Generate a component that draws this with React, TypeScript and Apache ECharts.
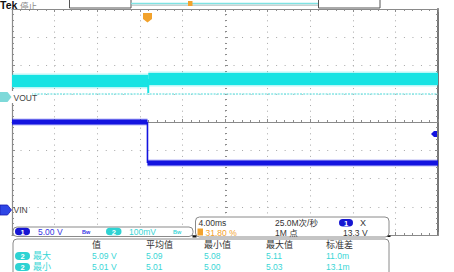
import React, { useEffect, useRef } from "react";
import * as echarts from "echarts";

// Oscilloscope capture: positions in screen divisions (x: -5..5, y: -4..4)
const vinTimes = [-5, -1.82, -1.82, 5];
const vinLevels = [0.0, 0.0, -1.45, -1.45];
const voutTimes = [-5, -1.8, -1.8, -1.8, 5];
const voutLevels = [1.45, 1.45, 1.03, 1.52, 1.52];
const voutRefLevel = 1.0;

const ch1Scale = "5.00 V";
const ch2Scale = "100mV";
const timeScale = "4.00ms";
const sampleRate = "25.0M次/秒";
const recordLength = "1M 点";
const triggerPos = "31.80 %";
const triggerLevel = "13.3 V";

const measHeaders = ["值", "平均值", "最小值", "最大值", "标准差"];
const measRowLabels = ["最大", "最小"];
const measMaxRow = ["5.09 V", "5.09", "5.08", "5.11", "11.0m"];
const measMinRow = ["5.01 V", "5.01", "5.00", "5.03", "13.1m"];

const CYAN = "#17E3E3";
const CYAN_TXT = "#3AD6D6";
const BLUE = "#1414E0";
const BLUE_TXT = "#3434E4";
const ORANGE = "#F2A22C";
const LATIN = '"Liberation Sans", Arial, "Noto Sans CJK SC", sans-serif';
const CJK = '"Noto Sans CJK SC", "Liberation Sans", sans-serif';

function traceSeries(times: number[], levels: number[], color: string, w: number, halo: number) {
  const out: any[] = [];
  for (let i = 0; i < times.length - 1; i++) {
    const seg = [
      [times[i], levels[i]],
      [times[i + 1], levels[i + 1]],
    ];
    const vertical = times[i] === times[i + 1];
    if (!vertical) {
      out.push({
        type: "line", xAxisIndex: 0, yAxisIndex: 0, data: seg, symbol: "none", silent: true, z: 3,
        lineStyle: { color, width: halo, opacity: 0.3, cap: "butt" },
      });
    }
    out.push({
      type: "line", xAxisIndex: 0, yAxisIndex: 0, data: seg, symbol: "none", silent: true, z: 4,
      lineStyle: { color, width: vertical ? 1.6 : w, cap: "butt" },
    });
  }
  return out;
}

function txt(x: number, y: number, text: string, fill: string, size = 9, family = LATIN, weight = "normal", align = "left") {
  return {
    type: "text", z: 20,
    style: {
      x, y, text, fill, textAlign: align, textVerticalAlign: "middle", verticalAlign: "middle",
      font: `${weight} ${size}px ${family}`, lineHeight: size + 0.5,
    },
  };
}

function pill(x: number, y: number, w: number, h: number, fill: string, label: string, tfill = "#fff") {
  return [
    { type: "rect", z: 20, shape: { x, y, width: w, height: h, r: h / 2 }, style: { fill } },
    txt(x + w / 2, y + h / 2 + 0.5, label, tfill, 7.5, LATIN, "bold", "center"),
  ];
}

function panel(x: number, y: number, w: number, h: number) {
  return {
    type: "rect", z: 15,
    shape: { x: x + 0.5, y: y + 0.5, width: w, height: h, r: 4 },
    style: { fill: "#fff", stroke: "#8a8a8a", lineWidth: 1 },
  };
}

function axisCommon(extra: any) {
  return {
    type: "value",
    axisLabel: { show: false },
    ...extra,
  };
}

export default function App() {
  const ref = useRef<HTMLDivElement>(null);
  useEffect(() => {
    if (!ref.current) return;
    const chart = echarts.init(ref.current, undefined, { renderer: "svg" });
    const gridBox = { left: 12, top: 9, width: 426, height: 226 };
    const tickStyle = { color: "#8c8c8c", width: 1 };
    const borderLine = { show: true, onZero: false, lineStyle: { color: "#8a8a8a", width: 1.2 } };

    const measTexts: any[] = [];
    const colX = [92, 146, 204, 266, 326];
    measHeaders.forEach((h, i) => measTexts.push(txt(colX[i], 244.5, h, "#333", 9, CJK)));
    [measMaxRow, measMinRow].forEach((row, r) => {
      const y = r === 0 ? 256 : 267;
      measTexts.push(...pill(15, y - 4, 15, 8, "#2ED3D3", "2"));
      measTexts.push(txt(33, y, measRowLabels[r], CYAN_TXT, 9, LATIN));
      row.forEach((v, i) => measTexts.push(txt(colX[i], y, v, CYAN_TXT, 8.5)));
    });

    const option: any = {
      animation: false,
      backgroundColor: "#fff",
      grid: [gridBox, gridBox, gridBox].map((g) => ({ ...g, containLabel: false })),
      xAxis: [
        axisCommon({
          gridIndex: 0, min: -5, max: 5, interval: 1, position: "top",
          axisLine: borderLine,
          axisTick: { show: true, inside: true, length: 3, lineStyle: tickStyle },
          minorTick: { show: true, splitNumber: 5, length: 2, lineStyle: tickStyle },
          splitLine: { show: true, lineStyle: { color: "#a8a8a8", width: 1, type: [1, 4.65] } },
        }),
        axisCommon({
          gridIndex: 1, min: -5, max: 5, interval: 1, position: "bottom",
          axisLine: borderLine,
          axisTick: { show: true, inside: true, length: 3, lineStyle: tickStyle },
          minorTick: { show: true, splitNumber: 5, length: 2, lineStyle: tickStyle },
          splitLine: { show: false },
        }),
        axisCommon({
          gridIndex: 2, min: -5, max: 5, interval: 1,
          axisLine: { show: true, onZero: true, lineStyle: { color: "#8a8a8a", width: 1 } },
          axisTick: { show: true, inside: true, length: 3, lineStyle: tickStyle },
          minorTick: { show: true, splitNumber: 5, length: 2, lineStyle: tickStyle },
          splitLine: { show: false },
        }),
      ],
      yAxis: [
        axisCommon({
          gridIndex: 0, min: -4, max: 4, interval: 1, position: "left",
          axisLine: borderLine,
          axisTick: { show: true, inside: true, length: 3, lineStyle: tickStyle },
          minorTick: { show: true, splitNumber: 5, length: 2, lineStyle: tickStyle },
          splitLine: { show: true, lineStyle: { color: "#a8a8a8", width: 1, type: [1, 7.52] } },
        }),
        axisCommon({
          gridIndex: 1, min: -4, max: 4, interval: 1, position: "right",
          axisLine: { show: true, onZero: false, lineStyle: { color: "#777", width: 2 } },
          axisTick: { show: true, inside: true, length: 3, lineStyle: tickStyle },
          minorTick: { show: true, splitNumber: 5, length: 2, lineStyle: tickStyle },
          splitLine: { show: false },
        }),
        axisCommon({
          gridIndex: 2, min: -4, max: 4, interval: 1,
          axisLine: { show: true, onZero: true, lineStyle: { color: "rgba(0,0,0,0)", width: 1 } },
          axisTick: { show: true, inside: true, length: 3, lineStyle: tickStyle },
          minorTick: { show: true, splitNumber: 5, length: 2, lineStyle: tickStyle },
          splitLine: { show: false },
        }),
      ],
      series: [
        {
          type: "line", xAxisIndex: 2, yAxisIndex: 2, data: [], silent: true,
        },
        {
          type: "line", xAxisIndex: 1, yAxisIndex: 1, data: [], silent: true,
        },
        {
          type: "line", xAxisIndex: 0, yAxisIndex: 0, data: [], silent: true, z: 2,
          markLine: {
            symbol: "none", silent: true, label: { show: false },
            lineStyle: { color: "#86E6E6", width: 1.5, type: [2, 1.2] },
            data: [{ yAxis: voutRefLevel }],
          },
        },
        ...traceSeries(voutTimes, voutLevels, CYAN, 12, 15),
        ...traceSeries(vinTimes, vinLevels, BLUE, 5, 7),
      ],
      graphic: [
        // top status bar
        txt(0, 4.5, "Tek", "#111", 10.5, LATIN, "bold"),
        txt(20, 5, "停止", "#8a8a8a", 8.5, CJK),
        { type: "rect", z: 20, shape: { x: 69.5, y: -0.5, width: 61.5, height: 8.5 }, style: { fill: "#fff", stroke: "#555", lineWidth: 1 } },
        { type: "rect", z: 20, shape: { x: 318.5, y: -0.5, width: 61.5, height: 8.5 }, style: { fill: "#fff", stroke: "#555", lineWidth: 1 } },
        { type: "line", z: 20, shape: { x1: 131, y1: 3.5, x2: 318, y2: 3.5 }, style: { stroke: "#7FE3E3", lineWidth: 1.5 } },
        { type: "line", z: 20, shape: { x1: 131, y1: 5.2, x2: 318, y2: 5.2 }, style: { stroke: "#9aa", lineWidth: 0.8 } },
        { type: "rect", z: 21, shape: { x: 188, y: 1, width: 4.5, height: 5 }, style: { fill: ORANGE } },
        // trigger position marker
        { type: "polygon", z: 21, shape: { points: [[143, 13], [152, 13], [152, 19], [147.5, 22.5], [143, 19]] }, style: { fill: ORANGE } },
        txt(147.5, 17.5, "T", "#fff", 7.5, LATIN, "bold", "center"),
        // channel markers
        { type: "rect", z: 18, shape: { x: 0, y: 91, width: 32, height: 12 }, style: { fill: "#fff" } },
        { type: "polygon", z: 21, shape: { points: [[0, 92], [7.5, 92], [11.5, 97], [7.5, 102], [0, 102]] }, style: { fill: "#7ED9D9" } },
        txt(4.5, 97.5, "2", "#4a6a6a", 8, LATIN, "bold", "center"),
        txt(13.5, 97.5, "VOUT", "#444", 8.5),
        { type: "polygon", z: 21, shape: { points: [[0, 205], [7.5, 205], [11.5, 210], [7.5, 215], [0, 215]] }, style: { fill: "#2E46E6", stroke: "#1a1ab0", lineWidth: 0.8 } },
        txt(4.5, 210.5, "1", "#d8dcff", 8, LATIN, "bold", "center"),
        txt(13.5, 210, "VIN", "#444", 8.5),
        { type: "polygon", z: 21, shape: { points: [[431, 134], [434, 131], [437, 131], [437, 137], [434, 137]] }, style: { fill: BLUE } },
        // panel A: vertical scales
        panel(12.5, 226.5, 180, 9.5),
        ...pill(15, 227.8, 15, 7.5, "#1616D2", "1"),
        txt(38, 232, ch1Scale, BLUE_TXT, 8.5),
        txt(82, 231.5, "Bw", BLUE_TXT, 5.5, LATIN, "bold"),
        ...pill(106, 227.8, 15.5, 7.5, "#2ED3D3", "2"),
        txt(129, 232, ch2Scale, CYAN_TXT, 8.5),
        txt(173, 231.5, "Bw", CYAN_TXT, 5.5, LATIN, "bold"),
        // panel B: horizontal / trigger
        panel(195, 216.5, 193.5, 20),
        txt(198.5, 222.5, timeScale, "#333", 8.5),
        txt(275, 222.5, sampleRate, "#333", 8.5),
        ...pill(339, 219, 14, 7.5, "#1616D2", "1"),
        txt(360, 222.5, "X", "#333", 9),
        { type: "rect", z: 21, shape: { x: 197.5, y: 228.5, width: 5.5, height: 7 }, style: { fill: ORANGE } },
        txt(200.3, 232.3, "T", "#fff", 6, LATIN, "bold", "center"),
        txt(205.5, 232.5, triggerPos, ORANGE, 8.5),
        txt(275, 232.5, recordLength, "#333", 8.5),
        txt(343, 232.5, triggerLevel, "#333", 8.5),
        { type: "rect", z: 22, shape: { x: 192.5, y: 235.5, width: 4, height: 2 }, style: { fill: "#111" } },
        { type: "rect", z: 22, shape: { x: 387.5, y: 235.5, width: 3, height: 1.5 }, style: { fill: "#111" } },
        // panel C: measurements
        panel(12.5, 238.5, 376, 40),
        ...measTexts,
      ],
    };
    chart.setOption(option);
    return () => chart.dispose();
  }, []);
  return (
    <div
      ref={ref}
      style={{ position: "fixed", left: 0, top: 0, width: 454, height: 272, background: "#fff" }}
    />
  );
}
